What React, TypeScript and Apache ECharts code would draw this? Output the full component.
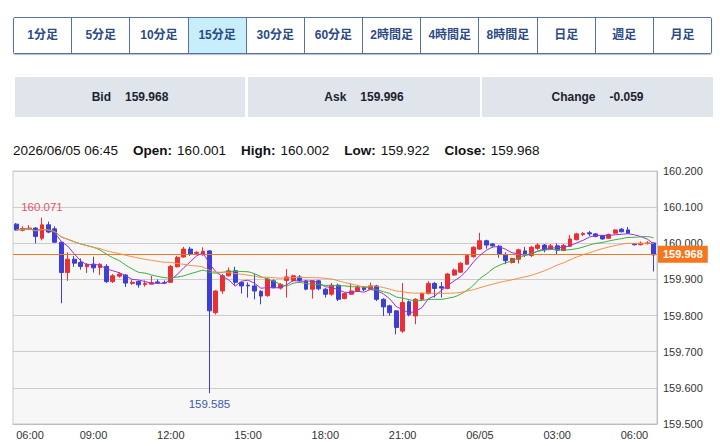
import React, { useEffect, useRef } from "react";
import * as echarts from "echarts";

// ---------- UI data ----------
const periodButtons = ["1分足", "5分足", "10分足", "15分足", "30分足", "60分足", "2時間足", "4時間足", "8時間足", "日足", "週足", "月足"];
const activeButton = "15分足";
const quoteLabels = ["Bid", "Ask", "Change"];
const quoteValues = ["159.968", "159.996", "-0.059"];

// ---------- chart data (15-minute candles, 2026/06/04 06:00 -> 2026/06/05 06:45) ----------
const startTimeUTC = Date.UTC(2026, 5, 4, 6, 0);
const stepMinutes = 15;
const xTickLabels = ["06:00", "09:00", "12:00", "15:00", "18:00", "21:00", "06/05", "03:00", "06:00"];
const yMin = 159.5;
const yMax = 160.2;
const yStep = 0.1;
const maPeriods = [5, 13, 25];
const maColors = ["#9a2fdc", "#3aae3a", "#f29045"];

const opens = [
  160.053, 160.036, 160.040, 160.042, 160.014, 160.051, 160.040, 160.003, 159.919, 159.956,
  159.947, 159.935, 159.942, 159.933, 159.936, 159.894, 159.909, 159.912, 159.889, 159.894,
  159.886, 159.887, 159.893, 159.891, 159.892, 159.935, 159.962, 159.984, 159.972, 159.968,
  159.979, 159.808, 159.868, 159.910, 159.924, 159.892, 159.884, 159.882, 159.867, 159.855,
  159.896, 159.876, 159.897, 159.897, 159.907, 159.896, 159.873, 159.896, 159.873, 159.859,
  159.884, 159.847, 159.859, 159.868, 159.879, 159.873, 159.882, 159.845, 159.827, 159.813,
  159.757, 159.838, 159.799, 159.845, 159.861, 159.889, 159.880, 159.875, 159.912, 159.920,
  159.942, 159.963, 159.984, 160.007, 159.998, 159.992, 159.967, 159.947, 159.956, 159.979,
  159.966, 159.986, 159.995, 159.984, 159.993, 159.980, 159.992, 160.010, 160.024, 160.029,
  160.026, 160.021, 160.014, 160.028, 160.039, 160.037, 159.998, 159.996, 159.999, 160.001,
];
const highs = [
  160.056, 160.047, 160.050, 160.045, 160.071, 160.060, 160.047, 160.005, 159.975, 159.965,
  159.958, 159.945, 159.963, 159.945, 159.942, 159.915, 159.920, 159.915, 159.900, 159.897,
  159.897, 159.910, 159.900, 159.897, 159.940, 159.965, 159.990, 159.990, 159.978, 159.989,
  159.981, 159.870, 159.915, 159.933, 159.935, 159.895, 159.892, 159.915, 159.870, 159.905,
  159.900, 159.890, 159.929, 159.913, 159.912, 159.899, 159.898, 159.899, 159.876, 159.890,
  159.888, 159.864, 159.889, 159.884, 159.882, 159.891, 159.885, 159.848, 159.830, 159.815,
  159.890, 159.842, 159.848, 159.864, 159.895, 159.893, 159.893, 159.918, 159.930, 159.948,
  159.968, 159.992, 160.029, 160.010, 160.001, 159.995, 159.975, 159.960, 159.985, 159.990,
  159.993, 160.000, 159.998, 159.998, 160.000, 159.998, 160.023, 160.029, 160.031, 160.034,
  160.028, 160.023, 160.027, 160.039, 160.042, 160.045, 160.000, 160.005, 160.006, 160.002,
];
const lows = [
  160.035, 160.033, 160.037, 160.000, 160.008, 160.028, 160.001, 159.834, 159.896, 159.935,
  159.927, 159.918, 159.919, 159.912, 159.890, 159.890, 159.905, 159.879, 159.885, 159.877,
  159.880, 159.886, 159.888, 159.887, 159.891, 159.933, 159.960, 159.965, 159.970, 159.966,
  159.585, 159.803, 159.860, 159.908, 159.885, 159.861, 159.850, 159.845, 159.831, 159.852,
  159.875, 159.872, 159.850, 159.893, 159.893, 159.870, 159.847, 159.870, 159.850, 159.855,
  159.840, 159.845, 159.857, 159.866, 159.868, 159.871, 159.840, 159.799, 159.800, 159.748,
  159.752, 159.798, 159.776, 159.840, 159.858, 159.850, 159.850, 159.873, 159.910, 159.918,
  159.940, 159.960, 159.982, 159.985, 159.988, 159.960, 159.942, 159.944, 159.944, 159.962,
  159.962, 159.982, 159.975, 159.982, 159.970, 159.978, 159.990, 160.008, 160.020, 160.020,
  160.017, 160.010, 160.012, 160.026, 160.030, 160.026, 159.994, 159.994, 159.997, 159.922,
];
const closes = [
  160.037, 160.041, 160.042, 160.019, 160.051, 160.031, 160.003, 159.919, 159.956, 159.945,
  159.936, 159.942, 159.932, 159.942, 159.894, 159.910, 159.915, 159.890, 159.892, 159.885,
  159.889, 159.891, 159.890, 159.890, 159.936, 159.961, 159.984, 159.970, 159.975, 159.978,
  159.813, 159.868, 159.910, 159.924, 159.892, 159.882, 159.882, 159.868, 159.854, 159.901,
  159.878, 159.886, 159.907, 159.910, 159.897, 159.873, 159.896, 159.874, 159.859, 159.884,
  159.845, 159.861, 159.868, 159.878, 159.872, 159.882, 159.845, 159.824, 159.808, 159.767,
  159.836, 159.802, 159.845, 159.861, 159.889, 159.875, 159.876, 159.915, 159.926, 159.945,
  159.966, 159.989, 160.007, 159.995, 159.993, 159.970, 159.952, 159.958, 159.982, 159.970,
  159.989, 159.995, 159.983, 159.993, 159.981, 159.994, 160.012, 160.026, 160.027, 160.026,
  160.019, 160.012, 160.024, 160.037, 160.032, 160.028, 159.996, 160.000, 160.001, 159.968,
];

const pad = (n: number) => String(n).padStart(2, "0");
const categories = opens.map((_, i) => {
  const d = new Date(startTimeUTC + i * stepMinutes * 60000);
  return `${d.getUTCFullYear()}/${pad(d.getUTCMonth() + 1)}/${pad(d.getUTCDate())} ${pad(d.getUTCHours())}:${pad(d.getUTCMinutes())}`;
});

function movingAverage(values: number[], n: number) {
  return values.map((_, i) => {
    const s = Math.max(0, i - n + 1);
    let sum = 0;
    for (let k = s; k <= i; k++) sum += values[k];
    return +(sum / (i - s + 1)).toFixed(4);
  });
}

const UP = "#ec2f33";
const DOWN = "#3b3fd4";
const FONT = "'Liberation Sans', Arial, 'Noto Sans CJK JP', sans-serif";

function Chart() {
  const ref = useRef<HTMLDivElement>(null);
  useEffect(() => {
    if (!ref.current) return;
    const chart = echarts.init(ref.current, undefined, { renderer: "svg" });
    const last = closes[closes.length - 1];
    const candleData = opens.map((o, i) => [o, closes[i], lows[i], highs[i]]);
    const maSeries = maPeriods.map((p, k) => ({
      name: "MA" + p,
      type: "line",
      data: movingAverage(closes, p),
      showSymbol: false,
      smooth: k === 0 ? false : 0.3,
      z: 5,
      lineStyle: { width: 1, color: maColors[k] },
      itemStyle: { color: maColors[k] },
      silent: true,
    }));
    chart.setOption({
      animation: false,
      textStyle: { fontFamily: FONT },
      grid: {
        left: 13,
        right: 63,
        top: 171,
        bottom: 22,
        show: true,
        backgroundColor: "#f7f7f7",
        borderColor: "#c9c9c9",
        borderWidth: 1,
      },
      xAxis: {
        type: "category",
        data: categories,
        boundaryGap: true,
        axisLine: { lineStyle: { color: "#bdbdbd" } },
        axisTick: {
          alignWithLabel: true,
          interval: 11,
          inside: true,
          length: 4,
          lineStyle: { color: "#aaaaaa" },
        },
        axisLabel: {
          interval: 11,
          color: "#333",
          fontSize: 11,
          margin: 5,
          fontFamily: FONT,
          alignMinLabel: "left",
          formatter: (_v: string, idx: number) => xTickLabels[Math.round(idx / 12)] ?? "",
        },
        splitLine: { show: false },
      },
      yAxis: {
        type: "value",
        position: "right",
        min: yMin,
        max: yMax,
        interval: yStep,
        scale: true,
        axisLine: { show: true, lineStyle: { color: "#bdbdbd" } },
        axisTick: { show: false },
        axisLabel: {
          color: "#333",
          fontSize: 11,
          margin: 6,
          fontFamily: FONT,
          formatter: (v: number) => v.toFixed(3),
        },
        splitLine: { show: true, lineStyle: { color: "#cccccc", width: 1 } },
      },
      series: [
        {
          type: "candlestick",
          data: candleData,
          barWidth: "68%",
          z: 3,
          itemStyle: {
            color: UP,
            color0: DOWN,
            borderColor: UP,
            borderColor0: DOWN,
            borderWidth: 1,
          },
          markPoint: {
            symbol: "circle",
            symbolSize: 1,
            itemStyle: { color: "rgba(0,0,0,0)" },
            silent: true,
            data: [
              {
                type: "max",
                valueDim: "highest",
                label: {
                  show: true,
                  position: "top",
                  distance: 4,
                  color: "#e2566d",
                  fontSize: 11.5,
                  fontFamily: FONT,
                  formatter: (p: any) => Number(p.value).toFixed(3),
                },
              },
              {
                type: "min",
                valueDim: "lowest",
                label: {
                  show: true,
                  position: "bottom",
                  distance: 4,
                  color: "#3a5aae",
                  fontSize: 11.5,
                  fontFamily: FONT,
                  formatter: (p: any) => Number(p.value).toFixed(3),
                },
              },
            ],
          },
          markLine: {
            silent: true,
            symbol: ["none", "none"],
            lineStyle: { color: "#f07a22", width: 1, type: "solid" },
            label: {
              show: true,
              position: "end",
              distance: 1,
              backgroundColor: "#f5761c",
              color: "#fff",
              fontWeight: "bold",
              fontSize: 11,
              fontFamily: FONT,
              padding: [3, 5, 3, 5],
              formatter: () => last.toFixed(3),
            },
            data: [{ yAxis: last }],
          },
        },
        ...maSeries,
      ],
    });
    return () => chart.dispose();
  }, []);
  return <div ref={ref} style={{ position: "absolute", left: 0, top: 0, width: 720, height: 446 }} />;
}

export default function App() {
  const n = closes.length - 1;
  const headerItems: [string, string][] = [
    ["Open:", opens[n].toFixed(3)],
    ["High:", highs[n].toFixed(3)],
    ["Low:", lows[n].toFixed(3)],
    ["Close:", closes[n].toFixed(3)],
  ];
  const cellX = [15, 248, 482];
  const cellW = [230, 232, 231];
  return (
    <div
      style={{
        position: "fixed",
        left: 0,
        top: 0,
        width: 720,
        height: 446,
        background: "#fff",
        overflow: "hidden",
        fontFamily: FONT,
      }}
    >
      <Chart />
      {/* period buttons */}
      <div
        style={{
          position: "absolute",
          left: 13,
          top: 17,
          width: 699,
          height: 37,
          boxSizing: "border-box",
          border: "1px solid #56739f",
          borderRadius: 2,
          display: "flex",
          overflow: "hidden",
          boxShadow: "0 1px 1px rgba(40,60,100,0.35)",
        }}
      >
        {periodButtons.map((b, i) => (
          <div
            key={b + i}
            style={{
              flex: 1,
              boxSizing: "border-box",
              borderLeft: i === 0 ? "none" : "1px solid #56739f",
              background: b === activeButton ? "#c9eefb" : "#fff",
              color: "#2c4a86",
              fontWeight: "bold",
              fontSize: 12,
              lineHeight: "35px",
              textAlign: "center",
            }}
          >
            {b}
          </div>
        ))}
      </div>
      {/* quote bar */}
      {quoteLabels.map((l, i) => (
        <div
          key={l}
          style={{
            position: "absolute",
            left: cellX[i],
            top: 77,
            width: cellW[i],
            height: 40,
            background: "#dfe5eb",
            color: "#1d2230",
            fontWeight: "bold",
            fontSize: 12,
            lineHeight: "40px",
            textAlign: "center",
          }}
        >
          <span>{l}</span>
          <span style={{ marginLeft: 14 }}>{quoteValues[i]}</span>
        </div>
      ))}
      {/* OHLC header */}
      <div
        style={{
          position: "absolute",
          left: 13,
          top: 142,
          height: 17,
          lineHeight: "17px",
          fontSize: 13.5,
          color: "#111",
          whiteSpace: "nowrap",
        }}
      >
        <span>{categories[n]}</span>
        {headerItems.map(([k, v]) => (
          <span key={k} style={{ marginLeft: 15 }}>
            <b>{k}</b>
            <span style={{ marginLeft: 5 }}>{v}</span>
          </span>
        ))}
      </div>
    </div>
  );
}
